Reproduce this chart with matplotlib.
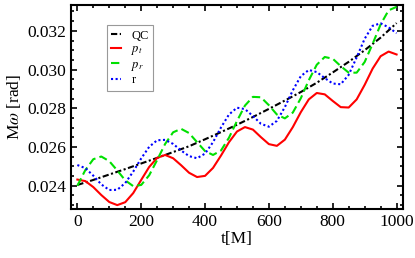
import numpy as np
import matplotlib
matplotlib.use("Agg")
import matplotlib.pyplot as plt
from matplotlib.ticker import MultipleLocator

plt.rcParams['font.family'] = ['Liberation Serif', 'DejaVu Serif']
plt.rcParams['mathtext.fontset'] = 'stix'

# time samples [M]
t = np.arange(0, 1001, 25)

# quasi-circular reference (sampled every 50 M)
t_qc = np.arange(0, 1001, 50)
qc = [0.02404, 0.02430, 0.02458, 0.02486, 0.02515, 0.02544, 0.02574,
      0.02604, 0.02640, 0.02677, 0.02715, 0.02755, 0.02797, 0.02840,
      0.02884, 0.02932, 0.02985, 0.03040, 0.03100, 0.03165, 0.03240]

p_t = [0.02432, 0.02424, 0.02393, 0.02352, 0.02316, 0.02300, 0.02315,
       0.02362, 0.02430, 0.02497, 0.02544, 0.02559, 0.02542, 0.02506,
       0.02467, 0.02445, 0.02451, 0.02492, 0.02556, 0.02625, 0.02680,
       0.02703, 0.02690, 0.02651, 0.02615, 0.02606, 0.02638, 0.02703,
       0.02780, 0.02846, 0.02879, 0.02872, 0.02838, 0.02806, 0.02804,
       0.02846, 0.02921, 0.03005, 0.03069, 0.03093, 0.03078]

p_r = [0.02400, 0.02481, 0.02537, 0.02551, 0.02527, 0.02479, 0.02428,
       0.02398, 0.02404, 0.02454, 0.02533, 0.02616, 0.02676, 0.02694,
       0.02672, 0.02625, 0.02579, 0.02559, 0.02582, 0.02648, 0.02734,
       0.02814, 0.02859, 0.02857, 0.02816, 0.02768, 0.02748, 0.02778,
       0.02852, 0.02945, 0.03025, 0.03065, 0.03056, 0.03018, 0.02984,
       0.02984, 0.03039, 0.03133, 0.03233, 0.03306, 0.03324]

r = [0.02507, 0.02491, 0.02452, 0.02407, 0.02378, 0.02379, 0.02414,
     0.02473, 0.02541, 0.02601, 0.02635, 0.02637, 0.02616, 0.02582,
     0.02553, 0.02542, 0.02566, 0.02625, 0.02701, 0.02768, 0.02803,
     0.02796, 0.02760, 0.02720, 0.02705, 0.02735, 0.02806, 0.02893,
     0.02966, 0.02998, 0.02987, 0.02956, 0.02928, 0.02924, 0.02973,
     0.03063, 0.03159, 0.03226, 0.03239, 0.03218, 0.03188]

fig = plt.figure(figsize=(4.15, 2.58), dpi=100)
ax = fig.add_axes([0.171, 0.190, 0.800, 0.791])

lw = 1.5
ax.plot(t_qc, qc, color='black', lw=lw, ls=(0, (3, 1.2, 1, 1.2)), label='QC')
ax.plot(t, p_t, color='#ff0000', lw=lw, ls='-', label='$p_t$')
ax.plot(t, p_r, color='#00e000', lw=lw, ls=(0, (4, 2)), label='$p_r$')
ax.plot(t, r, color='#0000ff', lw=lw, ls=(0, (1, 1.2)), label='r')

ax.set_xlim(-20, 1020)
ax.set_ylim(0.02280, 0.03334)
ax.xaxis.set_major_locator(MultipleLocator(200))
ax.xaxis.set_minor_locator(MultipleLocator(50))
ax.yaxis.set_major_locator(MultipleLocator(0.002))
ax.yaxis.set_minor_locator(MultipleLocator(0.0005))
ax.yaxis.set_major_formatter(plt.FuncFormatter(lambda v, p: '%.3f' % v))

ax.tick_params(which='both', direction='in', top=True, right=True,
               labelsize=12.5, width=1.2)
ax.tick_params(which='major', length=4)
ax.tick_params(which='minor', length=2)
for s in ax.spines.values():
    s.set_linewidth(1.5)

ax.set_xlabel('t[M]', fontsize=12.5, labelpad=1)
ax.set_ylabel(r'M$\omega$ [rad]', fontsize=12.5, labelpad=3)

leg = ax.legend(loc='upper left', bbox_to_anchor=(0.09, 0.93), fontsize=9,
                handlelength=0.8, handletextpad=0.8, labelspacing=0.12,
                borderpad=0.35, fancybox=False, framealpha=1)
leg.get_frame().set_edgecolor('#999999')
leg.get_frame().set_linewidth(0.8)

fig.savefig('out.png', dpi=100)
